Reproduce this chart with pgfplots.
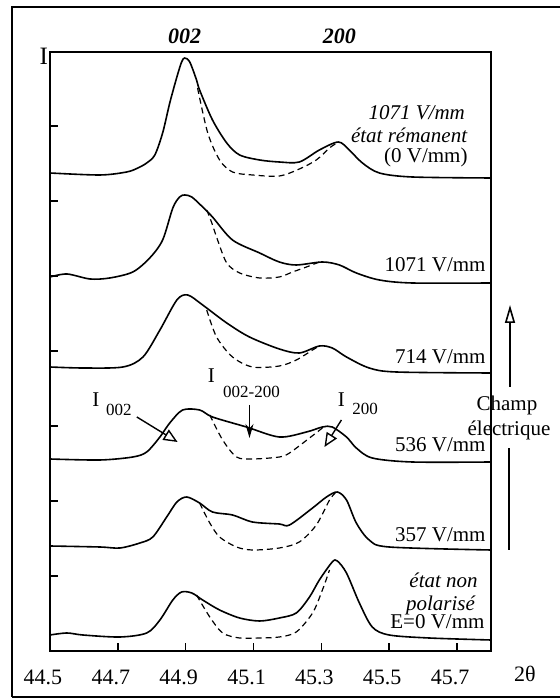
\documentclass[border=0pt]{standalone}
\usepackage{fontspec}
\setmainfont{Liberation Serif}
\usepackage{pgfplots}
\pgfplotsset{compat=1.18}
\usetikzlibrary{arrows.meta}

\begin{document}
\begin{tikzpicture}
\begin{axis}[
  scale only axis,
  width=220.5pt, height=299.5pt,
  xmin=44.5, xmax=45.8,
  ymin=0, ymax=599,
  axis line style={line width=1pt},
  xtick={44.5,44.7,...,45.75},
  ytick={75,150,...,525},
  yticklabels={},
  xtick pos=bottom, ytick pos=left,
  tick align=inside,
  major tick length=4pt,
  tick style={line width=0.8pt, black},
  xticklabel style={/pgf/number format/fixed, /pgf/number format/precision=1,
    /pgf/number format/fixed zerofill, font=\fontsize{11}{12}\selectfont, yshift=-6pt, xshift=-3.5pt},
  /pgf/number format/assume math mode=true,
  clip=false,
  cycle list={{black, solid, no markers}},
  every axis plot/.append style={black, line width=0.8pt, smooth, tension=0.5, no markers},
  nodes={font=\fontsize{10.5}{12}\selectfont},
]
% 1071 V/mm, etat remanent
\addplot coordinates {(44.5,478) (44.647,476) (44.726,479) (44.759,483) (44.785,488) (44.809,496)
 (44.832,518) (44.853,548) (44.874,574) (44.888,589) (44.897,593) (44.912,589) (44.932,571)
 (44.941,561) (44.979,531) (45.021,508) (45.059,496) (45.118,491) (45.176,489) (45.235,489)
 (45.294,501) (45.35,509) (45.382,501) (45.421,488) (45.471,478) (45.568,474) (45.8,473)};
\addplot[dashed, dash pattern=on 3pt off 2pt, line width=0.6pt] coordinates {(44.935,563) (44.965,518) (45.0,491)
 (45.038,479) (45.097,476) (45.176,475) (45.235,482) (45.285,491) (45.324,503) (45.341,507)};
% 1071 V/mm
\addplot coordinates {(44.5,374) (44.55,377) (44.618,372) (44.676,373) (44.744,379) (44.794,393)
 (44.832,411) (44.862,443) (44.882,454) (44.897,456) (44.918,454) (44.95,444) (44.979,434)
 (45.038,411) (45.118,398) (45.176,389) (45.226,386) (45.303,389) (45.353,386) (45.403,378)
 (45.471,371) (45.568,368) (45.8,368)};
\addplot[dashed, dash pattern=on 3pt off 2pt, line width=0.6pt] coordinates {(44.962,441) (44.976,429) (44.994,411)
 (45.021,388) (45.059,378) (45.118,373) (45.176,374) (45.215,379) (45.256,384) (45.294,389)};
% 714 V/mm
\addplot coordinates {(44.5,284) (44.597,283) (44.715,284) (44.774,294) (44.824,321) (44.874,351)
 (44.906,356) (44.95,346) (45.021,328) (45.088,314) (45.176,302) (45.235,298) (45.294,305)
 (45.332,303) (45.374,294) (45.441,283) (45.521,279) (45.8,278)};
\addplot[dashed, dash pattern=on 3pt off 2pt, line width=0.6pt] coordinates {(44.962,341) (44.991,314) (45.038,294)
 (45.097,284) (45.176,285) (45.226,291) (45.274,301) (45.294,305)};
% 536 V/mm
\addplot coordinates {(44.5,192) (44.647,191) (44.744,194) (44.785,199) (44.824,214) (44.853,228)
 (44.891,241) (44.941,241) (44.979,234) (45.079,224) (45.176,214) (45.256,219) (45.303,224)
 (45.332,224) (45.374,214) (45.403,203) (45.45,193) (45.568,189) (45.8,189)};
\addplot[dashed, dash pattern=on 3pt off 2pt, line width=0.6pt] coordinates {(44.971,236) (45.009,211) (45.05,194)
 (45.097,192) (45.176,194) (45.206,198) (45.265,213) (45.303,223)};
% 357 V/mm
\addplot coordinates {(44.5,105) (44.647,104) (44.706,103) (44.765,108) (44.803,114) (44.844,134)
 (44.874,149) (44.903,154) (44.941,148) (44.979,139) (45.038,136) (45.097,129) (45.176,127)
 (45.206,126) (45.274,143) (45.315,154) (45.347,159) (45.374,151) (45.403,128) (45.441,111)
 (45.5,104) (45.8,101)};
\addplot[dashed, dash pattern=on 3pt off 2pt, line width=0.6pt] coordinates {(44.941,148) (44.971,128) (45.0,114)
 (45.05,104) (45.097,101) (45.176,103) (45.235,109) (45.285,126) (45.324,151) (45.341,158)};
% etat non polarise
\addplot coordinates {(44.5,16) (44.55,18) (44.597,16) (44.706,14) (44.785,18) (44.824,31)
 (44.862,51) (44.888,59) (44.918,58) (44.95,51) (45.0,41) (45.059,33) (45.118,30) (45.176,33)
 (45.226,38) (45.265,54) (45.294,71) (45.332,89) (45.347,90) (45.374,78) (45.412,48)
 (45.45,24) (45.5,16) (45.618,13) (45.8,11)};
\addplot[dashed, dash pattern=on 3pt off 2pt, line width=0.6pt] coordinates {(44.932,56) (44.971,34) (45.009,18)
 (45.059,13) (45.118,13) (45.176,14) (45.226,19) (45.274,38) (45.303,61) (45.324,81)};

% labels
\node[font=\fontsize{11}{12}\selectfont] at (axis cs:44.897,615) {\textbf{\textit{002}}};
\node[font=\fontsize{11}{12}\selectfont] at (axis cs:45.353,615) {\textbf{\textit{200}}};
\node[font=\fontsize{12.5}{14}\selectfont] at (axis cs:44.482,595) {I};
\node[font=\fontsize{11}{12}\selectfont] at (axis cs:45.9,-23) {2θ};

\node[anchor=east, inner sep=0pt] at (axis cs:45.724,538) {\textit{1071 V/mm}};
\node[anchor=east, inner sep=0pt] at (axis cs:45.732,516) {\textit{état rémanent}};
\node[anchor=east, inner sep=0pt] at (axis cs:45.732,494) {(0 V/mm)};
\node[anchor=east, inner sep=0pt] at (axis cs:45.785,386) {1071 V/mm};
\node[anchor=east, inner sep=0pt] at (axis cs:45.785,294) {714 V/mm};
\node[anchor=east, inner sep=0pt] at (axis cs:45.785,206) {536 V/mm};
\node[anchor=east, inner sep=0pt] at (axis cs:45.785,116) {357 V/mm};
\node[anchor=east, inner sep=0pt] at (axis cs:45.762,71) {\textit{état non}};
\node[anchor=east, inner sep=0pt] at (axis cs:45.756,46) {\textit{polarisé}};
\node[anchor=east, inner sep=0pt] at (axis cs:45.782,29) {E=0 V/mm};

% annotations
\node at (axis cs:44.635,251) {I};
\node[font=\fontsize{8.5}{10}\selectfont] at (axis cs:44.703,241) {002};
\draw[line width=0.7pt, -{Triangle[open, length=7pt, width=6pt]}] (axis cs:44.756,234) -- (axis cs:44.876,209);
\node at (axis cs:44.976,275) {I};
\node[font=\fontsize{8.5}{10}\selectfont] at (axis cs:45.094,259) {002-200};
\draw[line width=0.7pt, -{Stealth[length=7pt, width=4pt]}] (axis cs:45.088,246) -- (axis cs:45.088,213);
\node at (axis cs:45.359,251) {I};
\node[font=\fontsize{8.5}{10}\selectfont] at (axis cs:45.429,242) {200};
\draw[line width=0.7pt, -{Triangle[open, length=7pt, width=6pt]}] (axis cs:45.359,231) -- (axis cs:45.309,204);

% champ electrique
\node at (axis cs:45.847,246) {Champ};
\node at (axis cs:45.853,221) {électrique};
\draw[line width=0.8pt] (axis cs:45.853,101) -- (axis cs:45.853,203);
\draw[line width=0.8pt, -{Triangle[open, length=9pt, width=5pt]}] (axis cs:45.856,264) -- (axis cs:45.856,346);

% outer frame
\draw[line width=1.2pt] (axis cs:44.388,-46) -- (axis cs:44.388,644) -- (axis cs:46.02,644);
\draw[line width=1.2pt] (axis cs:44.388,-46) -- (axis cs:46.02,-46);
\end{axis}
\pgfresetboundingbox
\path[use as bounding box] ([shift={(-25pt,-24pt)}]current axis.south west) rectangle ++(279.5pt,349.5pt);
\end{tikzpicture}
\end{document}
